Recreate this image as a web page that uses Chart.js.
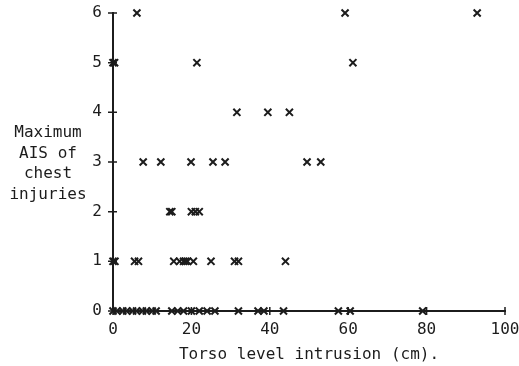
<!DOCTYPE html>
<html>
<head>
<meta charset="utf-8">
<script src="https://cdn.jsdelivr.net/npm/chart.js@4"></script>
<style>
  body { margin: 0; background: #fff; }
  #wrap { width: 519px; height: 366px; }
</style>
</head>
<body>
<div id="wrap"><canvas id="c"></canvas></div>
<script>
// torso level intrusion (cm) per maximum AIS level
const ais0 = [0, 1, 2.5, 3.5, 5, 6, 7.5, 8.5, 10, 11, 15, 16.5, 18, 20, 22, 24, 26, 32, 37, 38.5, 43.5, 57.5, 60.5, 79];
const ais1 = [0, 0.5, 5.5, 6.5, 15.5, 17, 18, 18.5, 19, 20.5, 25, 31, 32, 44];
const ais2 = [14.5, 15, 20, 21, 22];
const ais3 = [7.7, 12.2, 19.9, 25.5, 28.6, 49.5, 53];
const ais4 = [31.6, 39.5, 45];
const ais5 = [0, 0.4, 21.4, 61.2];
const ais6 = [6.1, 59.2, 92.9];

const xTicks = [0, 20, 40, 60, 80, 100];
const yTicks = [0, 1, 2, 3, 4, 5, 6];
const yTitle = ['Maximum', 'AIS of', 'chest', 'injuries'];

const ink = '#1c1c1c';
const mono = '"DejaVu Sans Mono", monospace';

const points = [];
[ais0, ais1, ais2, ais3, ais4, ais5, ais6].forEach((xs, level) => {
  xs.forEach(x => points.push({ x: x, y: level }));
});

// little "+" ticks crossing both axes, and the horizontal y title
const axisDecor = {
  id: 'axisDecor',
  afterDraw(chart) {
    const ctx = chart.ctx;
    const xs = chart.scales.x, ys = chart.scales.y;
    const x0 = xs.getPixelForValue(0), y0 = ys.getPixelForValue(0);
    ctx.save();
    ctx.strokeStyle = ink;
    ctx.lineWidth = 1.5;
    ctx.beginPath();
    xTicks.forEach(v => {
      const px = xs.getPixelForValue(v);
      ctx.moveTo(px, y0 - 4);
      ctx.lineTo(px, y0 + 4);
    });
    yTicks.forEach(v => {
      const py = ys.getPixelForValue(v);
      ctx.moveTo(x0 - 5, py);
      ctx.lineTo(x0 + 4, py);
    });
    ctx.stroke();

    ctx.fillStyle = ink;
    ctx.font = '16px ' + mono;
    ctx.textAlign = 'center';
    ctx.textBaseline = 'middle';
    yTitle.forEach((t, i) => ctx.fillText(t, 48, 133 + i * 20.5));
    ctx.restore();
  }
};

new Chart(document.getElementById('c'), {
  type: 'scatter',
  data: {
    datasets: [{
      data: points,
      pointStyle: 'crossRot',
      pointRadius: 5,
      pointHoverRadius: 5,
      borderColor: ink,
      backgroundColor: ink,
      borderWidth: 2,
      clip: false
    }]
  },
  options: {
    responsive: true,
    maintainAspectRatio: false,
    animation: false,
    layout: { padding: { top: 13, right: 14, bottom: 0, left: 0 } },
    plugins: { legend: { display: false }, tooltip: { enabled: false } },
    scales: {
      x: {
        type: 'linear',
        min: 0,
        max: 100,
        afterBuildTicks: s => { s.ticks = xTicks.map(v => ({ value: v })); },
        afterFit: s => { s.height = 55; s.paddingLeft = 0; s.paddingRight = 0; },
        grid: { display: true, drawOnChartArea: false, drawTicks: false },
        border: { display: true, color: ink, width: 2 },
        ticks: { color: ink, font: { family: mono, size: 16 }, padding: 9, maxRotation: 0 },
        title: {
          display: true,
          text: 'Torso level intrusion (cm).',
          color: ink,
          font: { family: mono, size: 16 },
          padding: { top: 2, bottom: 2 }
        }
      },
      y: {
        type: 'linear',
        min: 0,
        max: 6,
        afterBuildTicks: s => { s.ticks = yTicks.map(v => ({ value: v })); },
        afterFit: s => { s.width = 113; s.paddingTop = 0; s.paddingBottom = 0; },
        grid: { display: true, drawOnChartArea: false, drawTicks: false },
        border: { display: true, color: ink, width: 2 },
        ticks: { color: ink, font: { family: mono, size: 16 }, padding: 11 }
      }
    }
  },
  plugins: [axisDecor]
});
</script>
</body>
</html>
